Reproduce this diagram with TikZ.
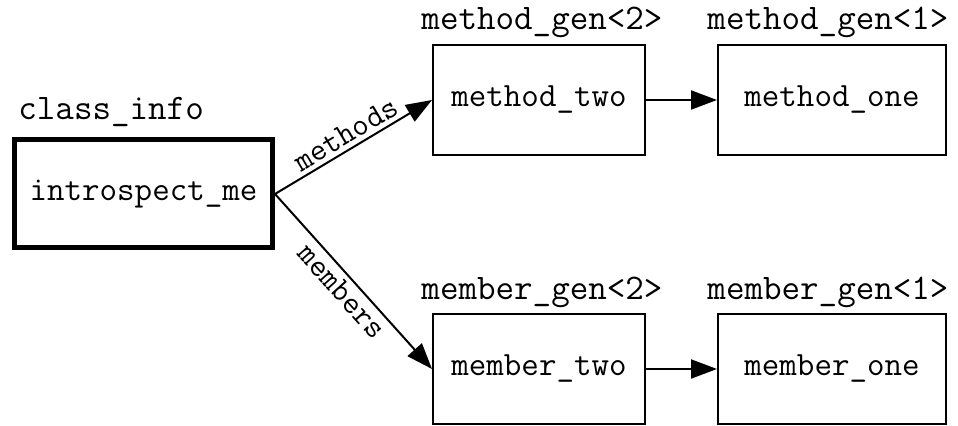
\documentclass[tikz,border=0pt]{standalone}
\usepackage{fontspec}
\usetikzlibrary{arrows.meta}

\tikzset{
  gen/.style={draw,line width=1pt,minimum width=106pt,minimum height=55pt,
    inner sep=0pt,font=\ttfamily\fontsize{17}{20}\selectfont},
  tag/.style={anchor=base,inner sep=0pt,font=\ttfamily\fontsize{18}{21}\selectfont},
  link/.style={line width=1pt,-{Triangle[length=13pt,width=9.5pt]}},
  edgetxt/.style={font=\ttfamily\fontsize{16}{18}\selectfont,sloped,inner sep=2pt}
}

\begin{document}
\begin{tikzpicture}[x=1pt,y=1pt]
    \useasboundingbox (0,0) rectangle (479,213);

    % the class and its generator chains
    \node[gen,line width=2.5pt,minimum width=129pt,minimum height=54pt](intro)at(71.75,116){introspect\_me};
    \node[gen](mtwo)at(269.5,163){method\_two};
    \node[gen,minimum width=114pt](mone)at(416,163){method\_one};
    \node[gen](btwo)at(269.5,28.5){member\_two};
    \node[gen,minimum width=114pt](bone)at(416,28.5){member\_one};

    \node[tag,anchor=base west](cinfo)at(9,153){class\_info};
    \node[tag](mgtwo)at(271,198){method\_gen<2>};
    \node[tag](mgone)at(414,198){method\_gen<1>};
    \node[tag](bgtwo)at(271,63){member\_gen<2>};
    \node[tag](bgone)at(414,63){member\_gen<1>};

    \draw[link] (intro.east) to node[edgetxt,above]{methods} (mtwo.west);
    \draw[link] (intro.east) to node[edgetxt,below]{members} (btwo.west);
    \draw[link] (mtwo) to (mone);
    \draw[link] (btwo) to (bone);
  \end{tikzpicture}
\end{document}
